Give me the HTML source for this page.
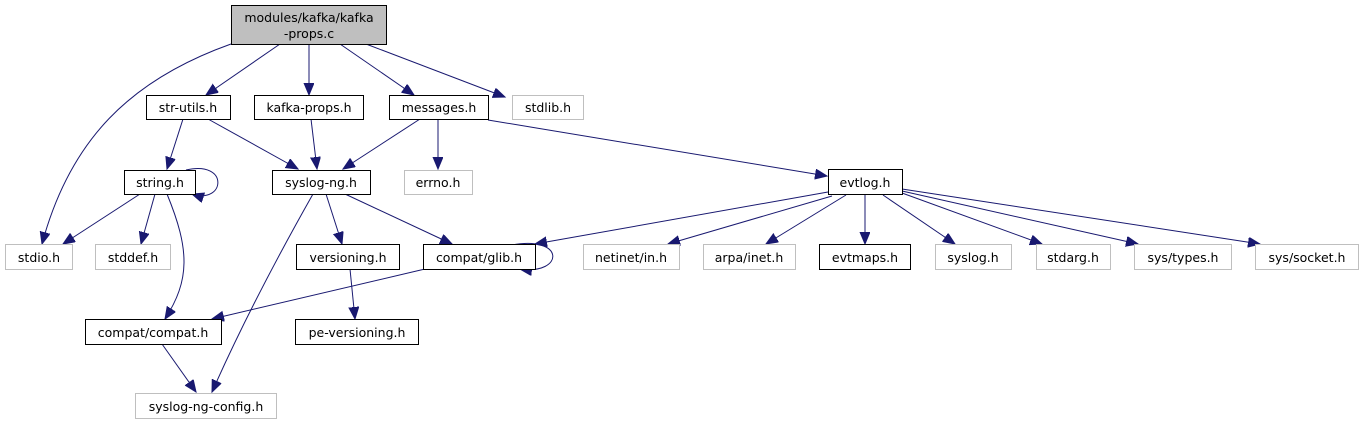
<!DOCTYPE html>
<html><head><meta charset="utf-8"><style>
html,body{margin:0;padding:0;background:#fff;}
svg{display:block}
text{font-family:"DejaVu Sans","Liberation Sans",sans-serif;font-size:12.5px;fill:#000;text-anchor:middle}
.b{fill:#fff;stroke:#000;stroke-width:1}
.g{fill:#fff;stroke:#bfbfbf;stroke-width:1}
.e{fill:none;stroke:#191970;stroke-width:1}
</style></head><body>
<svg width="1363" height="425" viewBox="0 0 1363 425">
<defs><marker id="a" markerUnits="userSpaceOnUse" markerWidth="14" markerHeight="12" refX="12" refY="5" orient="auto"><polygon points="0,0 12,5 0,10" fill="#191970" stroke="#191970"/></marker></defs>
<g class="e" marker-end="url(#a)">
<path d="M231,44 C130,80 70,140 42,244"/>
<path d="M280,44 L206,95"/>
<path d="M309,44 L309,95"/>
<path d="M340,44 L414,95"/>
<path d="M366,44 L505,97"/>
<path d="M183,119 L167,169"/>
<path d="M208,119 L298,169"/>
<path d="M311,119 L317,169"/>
<path d="M420,119 L343,169"/>
<path d="M438,119 L438,169"/>
<path d="M488,120 L827,176"/>
<path d="M186,170 C230,160 225,205 192,194"/>
<path d="M140,194 L63,244"/>
<path d="M155,194 L141,244"/>
<path d="M167,194 C190,250 190,280 165,319"/>
<path d="M313,194 C270,270 235,340 212,392"/>
<path d="M326,194 L342,244"/>
<path d="M345,194 L452,244"/>
<path d="M350,269 L355,319"/>
<path d="M425,269 L212,319"/>
<path d="M512,245 C565,235 565,275 520,269"/>
<path d="M162,344 L196,392"/>
<path d="M828,192 L535,244"/>
<path d="M832,196 L668,244"/>
<path d="M846,195 L766,244"/>
<path d="M865,195 L865,244"/>
<path d="M883,195 L955,244"/>
<path d="M902,193 L1042,244"/>
<path d="M902,191 L1138,244"/>
<path d="M902,189 L1260,244"/>
</g>
<rect x="231.5" y="5.5" width="155" height="39" fill="#bfbfbf" stroke="#000"/>
<text x="309" y="22">modules/kafka/kafka</text><text x="309" y="38">-props.c</text>
<rect class="b" x="146.5" y="95.5" width="84" height="24"/><text x="188" y="112">str-utils.h</text>
<rect class="b" x="254.5" y="95.5" width="109" height="24"/><text x="309" y="112">kafka-props.h</text>
<rect class="b" x="389.5" y="95.5" width="99" height="24"/><text x="439" y="112">messages.h</text>
<rect class="g" x="512.5" y="95.5" width="71" height="24"/><text x="548" y="112">stdlib.h</text>
<rect class="b" x="124.5" y="170.5" width="71" height="24"/><text x="160" y="187">string.h</text>
<rect class="b" x="272.5" y="170.5" width="98" height="24"/><text x="321" y="187">syslog-ng.h</text>
<rect class="g" x="404.5" y="170.5" width="68" height="24"/><text x="438" y="187">errno.h</text>
<rect class="b" x="828.5" y="169.5" width="74" height="25"/><text x="865" y="187">evtlog.h</text>
<rect class="g" x="5.5" y="244.5" width="67" height="25"/><text x="39" y="262">stdio.h</text>
<rect class="g" x="95.5" y="244.5" width="75" height="25"/><text x="133" y="262">stddef.h</text>
<rect class="b" x="296.5" y="244.5" width="103" height="25"/><text x="348" y="262">versioning.h</text>
<rect class="b" x="423.5" y="244.5" width="112" height="25"/><text x="479" y="262">compat/glib.h</text>
<rect class="g" x="583.5" y="244.5" width="96" height="25"/><text x="631" y="262">netinet/in.h</text>
<rect class="g" x="703.5" y="244.5" width="92" height="25"/><text x="749" y="262">arpa/inet.h</text>
<rect class="b" x="819.5" y="244.5" width="91" height="25"/><text x="865" y="262">evtmaps.h</text>
<rect class="g" x="935.5" y="244.5" width="76" height="25"/><text x="973" y="262">syslog.h</text>
<rect class="g" x="1036.5" y="244.5" width="74" height="25"/><text x="1073" y="262">stdarg.h</text>
<rect class="g" x="1134.5" y="244.5" width="97" height="25"/><text x="1183" y="262">sys/types.h</text>
<rect class="g" x="1255.5" y="244.5" width="103" height="25"/><text x="1307" y="262">sys/socket.h</text>
<rect class="b" x="85.5" y="319.5" width="136" height="25"/><text x="153" y="337">compat/compat.h</text>
<rect class="b" x="295.5" y="319.5" width="123" height="25"/><text x="357" y="337">pe-versioning.h</text>
<rect class="g" x="135.5" y="393.5" width="141" height="25"/><text x="206" y="411">syslog-ng-config.h</text>
</svg>
</body></html>
